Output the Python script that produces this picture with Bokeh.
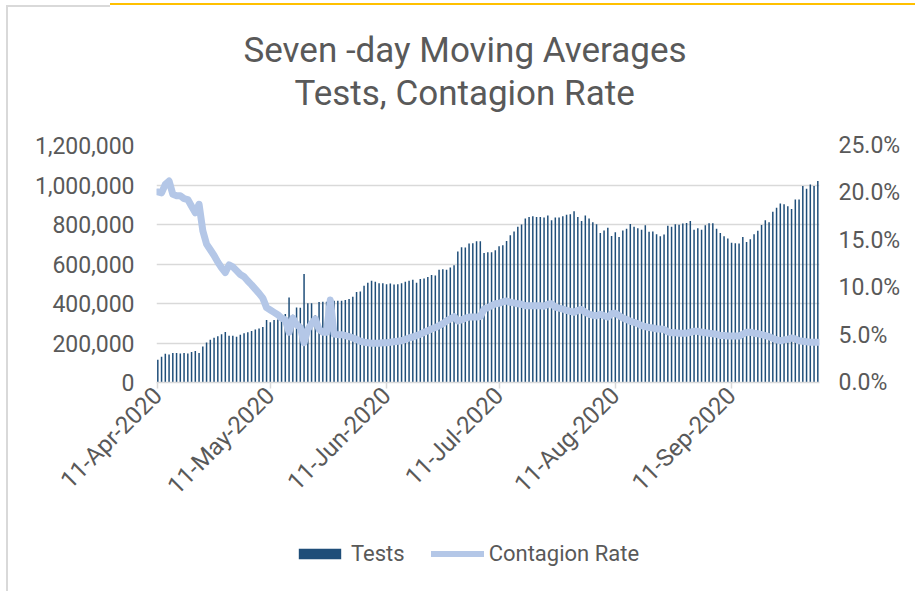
import math
import pandas as pd
from bokeh.plotting import figure
from bokeh.layouts import column
from bokeh.models import (Range1d, LinearAxis, FixedTicker, NumeralTickFormatter,
                          Legend, LegendItem, Title, ColumnDataSource)
from bokeh.embed import file_html
from bokeh.resources import INLINE

# ---------------- data ----------------
start_date = "2020-04-11"

tests = [
    115, 131, 146, 142, 150, 150, 147, 150, 147, 155,
    160, 150, 182, 202, 217, 226, 234, 244, 256, 237,
    237, 232, 242, 249, 254, 261, 268, 273, 281, 317,
    305, 317, 319, 313, 347, 431, 343, 380, 378, 549,
    401, 401, 340, 407, 409, 409, 412, 414, 414, 414,
    418, 423, 434, 458, 461, 490, 505, 515, 510, 503,
    503, 498, 501, 496, 498, 503, 510, 515, 520, 505,
    524, 527, 534, 544, 542, 571, 573, 571, 582, 594,
    663, 685, 683, 704, 705, 715, 715, 656, 660, 660,
    670, 690, 695, 717, 746, 764, 789, 800, 830, 838,
    842, 838, 838, 835, 845, 821, 835, 835, 842, 850,
    852, 867, 838, 818, 845, 830, 811, 801, 757, 769,
    784, 742, 761, 737, 769, 779, 803, 788, 781, 773,
    796, 763, 764, 751, 740, 749, 794, 788, 801, 799,
    805, 808, 818, 774, 781, 773, 796, 806, 806, 778,
    757, 740, 729, 707, 705, 704, 737, 712, 725, 751,
    768, 798, 821, 811, 864, 885, 906, 902, 892, 879,
    926, 926, 995, 981, 1003, 995, 1020,
]  # thousands of tests (7-day moving average)

contagion_rate = [
    20.1, 20.0, 20.9, 21.25, 19.85, 19.7, 19.7, 19.4, 19.3, 18.6,
    17.9, 18.8, 16.0, 14.6, 14.0, 13.4, 12.7, 12.1, 11.6, 12.4,
    12.2, 11.8, 11.4, 11.15, 10.7, 10.3, 9.85, 9.4, 8.9, 7.9,
    7.65, 7.4, 7.15, 6.8, 6.6, 5.3, 6.8, 6.1, 5.8, 4.2,
    5.6, 6.2, 6.7, 5.6, 5.3, 5.3, 8.7, 5.1, 5.05, 5.05,
    4.95, 4.85, 4.7, 4.55, 4.35, 4.25, 4.2, 4.15, 4.15, 4.15,
    4.2, 4.2, 4.25, 4.3, 4.35, 4.4, 4.55, 4.7, 4.8, 4.95,
    5.1, 5.3, 5.45, 5.65, 5.8, 6.0, 6.2, 6.5, 6.7, 6.95,
    6.5, 6.6, 6.8, 6.9, 6.9, 6.9, 6.95, 7.75, 7.9, 8.1,
    8.3, 8.35, 8.5, 8.6, 8.45, 8.4, 8.3, 8.25, 8.1, 8.1,
    8.1, 8.1, 8.1, 8.05, 8.25, 8.3, 7.95, 7.85, 7.75, 7.6,
    7.5, 7.4, 7.6, 7.7, 7.4, 7.2, 7.1, 7.05, 7.2, 7.05,
    6.9, 7.25, 7.3, 7.05, 6.8, 6.65, 6.45, 6.35, 6.2, 6.0,
    5.9, 5.8, 5.75, 5.65, 5.65, 5.6, 5.35, 5.25, 5.25, 5.2,
    5.2, 5.2, 5.3, 5.4, 5.4, 5.3, 5.25, 5.2, 5.15, 5.1,
    4.95, 4.95, 4.9, 4.9, 4.9, 4.9, 5.1, 5.3, 5.3, 5.2,
    5.15, 5.05, 4.95, 4.85, 4.65, 4.5, 4.4, 4.5, 4.55, 4.7,
    4.6, 4.4, 4.35, 4.3, 4.25, 4.25, 4.25,
]  # percent

x_tick_dates = ["2020-04-11", "2020-05-11", "2020-06-11",
                "2020-07-11", "2020-08-11", "2020-09-11"]
x_tick_labels = ["11-Apr-2020", "11-May-2020", "11-Jun-2020",
                 "11-Jul-2020", "11-Aug-2020", "11-Sep-2020"]
left_ticks = [0, 200000, 400000, 600000, 800000, 1000000, 1200000]
right_ticks = [0.0, 0.05, 0.10, 0.15, 0.20, 0.25]
title_lines = ["Seven -day Moving Averages", "Tests, Contagion Rate"]
legend_labels = ["Tests", "Contagion Rate"]

# ---------------- build ----------------
DAY = 86400000.0
dates = pd.date_range(start_date, periods=len(tests), freq="D")
ms = [d.value / 1e6 for d in dates]
source = ColumnDataSource(dict(
    date=ms,
    tests=[v * 1000 for v in tests],
    rate=[v / 100.0 for v in contagion_rate],
))

TXT = "#595959"
GRID = "#d9d9d9"
FONT = "Roboto"
BAR_COLOR = "#1F4E79"
LINE_COLOR = "#B4C7E7"

p = figure(width=915, height=530, x_axis_type="datetime",
           x_range=Range1d(ms[0] - 0.35 * DAY, ms[-1] + 0.45 * DAY),
           y_range=Range1d(left_ticks[0], left_ticks[-1]),
           output_backend="svg", toolbar_location=None,
           min_border_left=156, min_border_right=96,
           min_border_top=145, min_border_bottom=148)
p.title = None
p.outline_line_color = None
p.background_fill_color = "white"
p.border_fill_alpha = 0

p.extra_y_ranges = {"rate": Range1d(right_ticks[0], right_ticks[-1])}

bars = p.vbar(x="date", top="tests", width=0.4 * DAY, source=source,
              fill_color=BAR_COLOR, line_color=None)
line = p.line(x="date", y="rate", y_range_name="rate", source=source,
              line_color=LINE_COLOR, line_width=7, line_join="round", line_cap="round")

# x axis
xa = p.xaxis[0]
tick_ms = [pd.Timestamp(d).value / 1e6 for d in x_tick_dates]
xa.ticker = FixedTicker(ticks=tick_ms)
xa.major_label_overrides = {t: lab for t, lab in zip(tick_ms, x_tick_labels)}
xa.major_label_orientation = math.pi / 4
xa.axis_line_color = GRID
xa.axis_line_width = 1.5
xa.major_tick_line_color = GRID
xa.major_tick_line_width = 1.5
xa.major_tick_out = 6
xa.major_tick_in = 0
xa.minor_tick_line_color = None
xa.major_label_text_font = FONT
xa.major_label_text_font_size = "24px"
xa.major_label_text_color = TXT
xa.major_label_standoff = 3

# left axis
ya = p.yaxis[0]
ya.ticker = FixedTicker(ticks=left_ticks)
ya.formatter = NumeralTickFormatter(format="0,0")
ya.axis_line_color = None
ya.major_tick_line_color = None
ya.minor_tick_line_color = None
ya.major_label_text_font = FONT
ya.major_label_text_font_size = "23px"
ya.major_label_text_color = TXT
ya.major_label_standoff = 16

# right axis
ra = LinearAxis(y_range_name="rate", ticker=FixedTicker(ticks=right_ticks),
                formatter=NumeralTickFormatter(format="0.0%"))
ra.axis_line_color = None
ra.major_tick_line_color = None
ra.minor_tick_line_color = None
ra.major_label_text_font = FONT
ra.major_label_text_font_size = "23px"
ra.major_label_text_color = TXT
ra.major_label_standoff = 13
p.add_layout(ra, "right")

# grid
p.xgrid.grid_line_color = None
p.ygrid.ticker = FixedTicker(ticks=left_ticks)
p.ygrid.grid_line_color = GRID
p.ygrid.grid_line_width = 1.5

# title: spacer nearest the plot, then line 2, then line 1
spacer = Title(text=" ", standoff=19, text_font=FONT, text_font_size="10px")
t2 = Title(text=title_lines[1], align="left", offset=138, standoff=0,
           text_font=FONT, text_font_size="35px", text_color=TXT,
           text_font_style="normal")
t1 = Title(text=title_lines[0], align="left", offset=87, standoff=0,
           text_font=FONT, text_font_size="35px", text_color=TXT,
           text_font_style="normal")
p.add_layout(spacer, "above")
p.add_layout(t2, "above")
p.add_layout(t1, "above")

# legend strip below the chart (swatch renderers hold no visible data)
lf = figure(width=915, height=61, x_range=Range1d(0, 1), y_range=Range1d(0, 1),
            output_backend="svg", toolbar_location=None,
            x_axis_location=None, y_axis_location=None,
            min_border_left=0, min_border_right=0, min_border_top=0, min_border_bottom=0)
lf.title = None
lf.outline_line_color = None
lf.grid.grid_line_color = None
lf.background_fill_alpha = 0
lf.border_fill_alpha = 0
nan = float("nan")
lbar = lf.vbar(x=[nan], top=[nan], width=0.1, fill_color=BAR_COLOR, line_color=None)
lline = lf.line(x=[nan], y=[nan], line_color=LINE_COLOR, line_width=6, line_cap="round")

legend = Legend(items=[LegendItem(label=legend_labels[0], renderers=[lbar]),
                       LegendItem(label=legend_labels[1], renderers=[lline])],
                orientation="horizontal", location=(137, 25))
legend.margin = 0
legend.padding = 0
legend.spacing = 26
legend.glyph_width = 53
legend.glyph_height = 13
legend.label_standoff = 5
legend.label_text_font = FONT
legend.label_text_font_size = "22px"
legend.label_text_color = TXT
legend.border_line_color = None
legend.background_fill_alpha = 0
lf.add_layout(legend, "center")

layout = column(p, lf, spacing=0)
layout.styles = {
    "background": ("linear-gradient(#d9d9d9, #d9d9d9) 6px 5px / 2px 590px no-repeat, "
                   "linear-gradient(#d9d9d9, #d9d9d9) 6px 5px / 104px 2px no-repeat, "
                   "linear-gradient(#ffc000, #ffc000) 110px 3px / 805px 2px no-repeat, "
                   "#ffffff"),
}

open("out.html", "w").write(file_html(layout, INLINE))
